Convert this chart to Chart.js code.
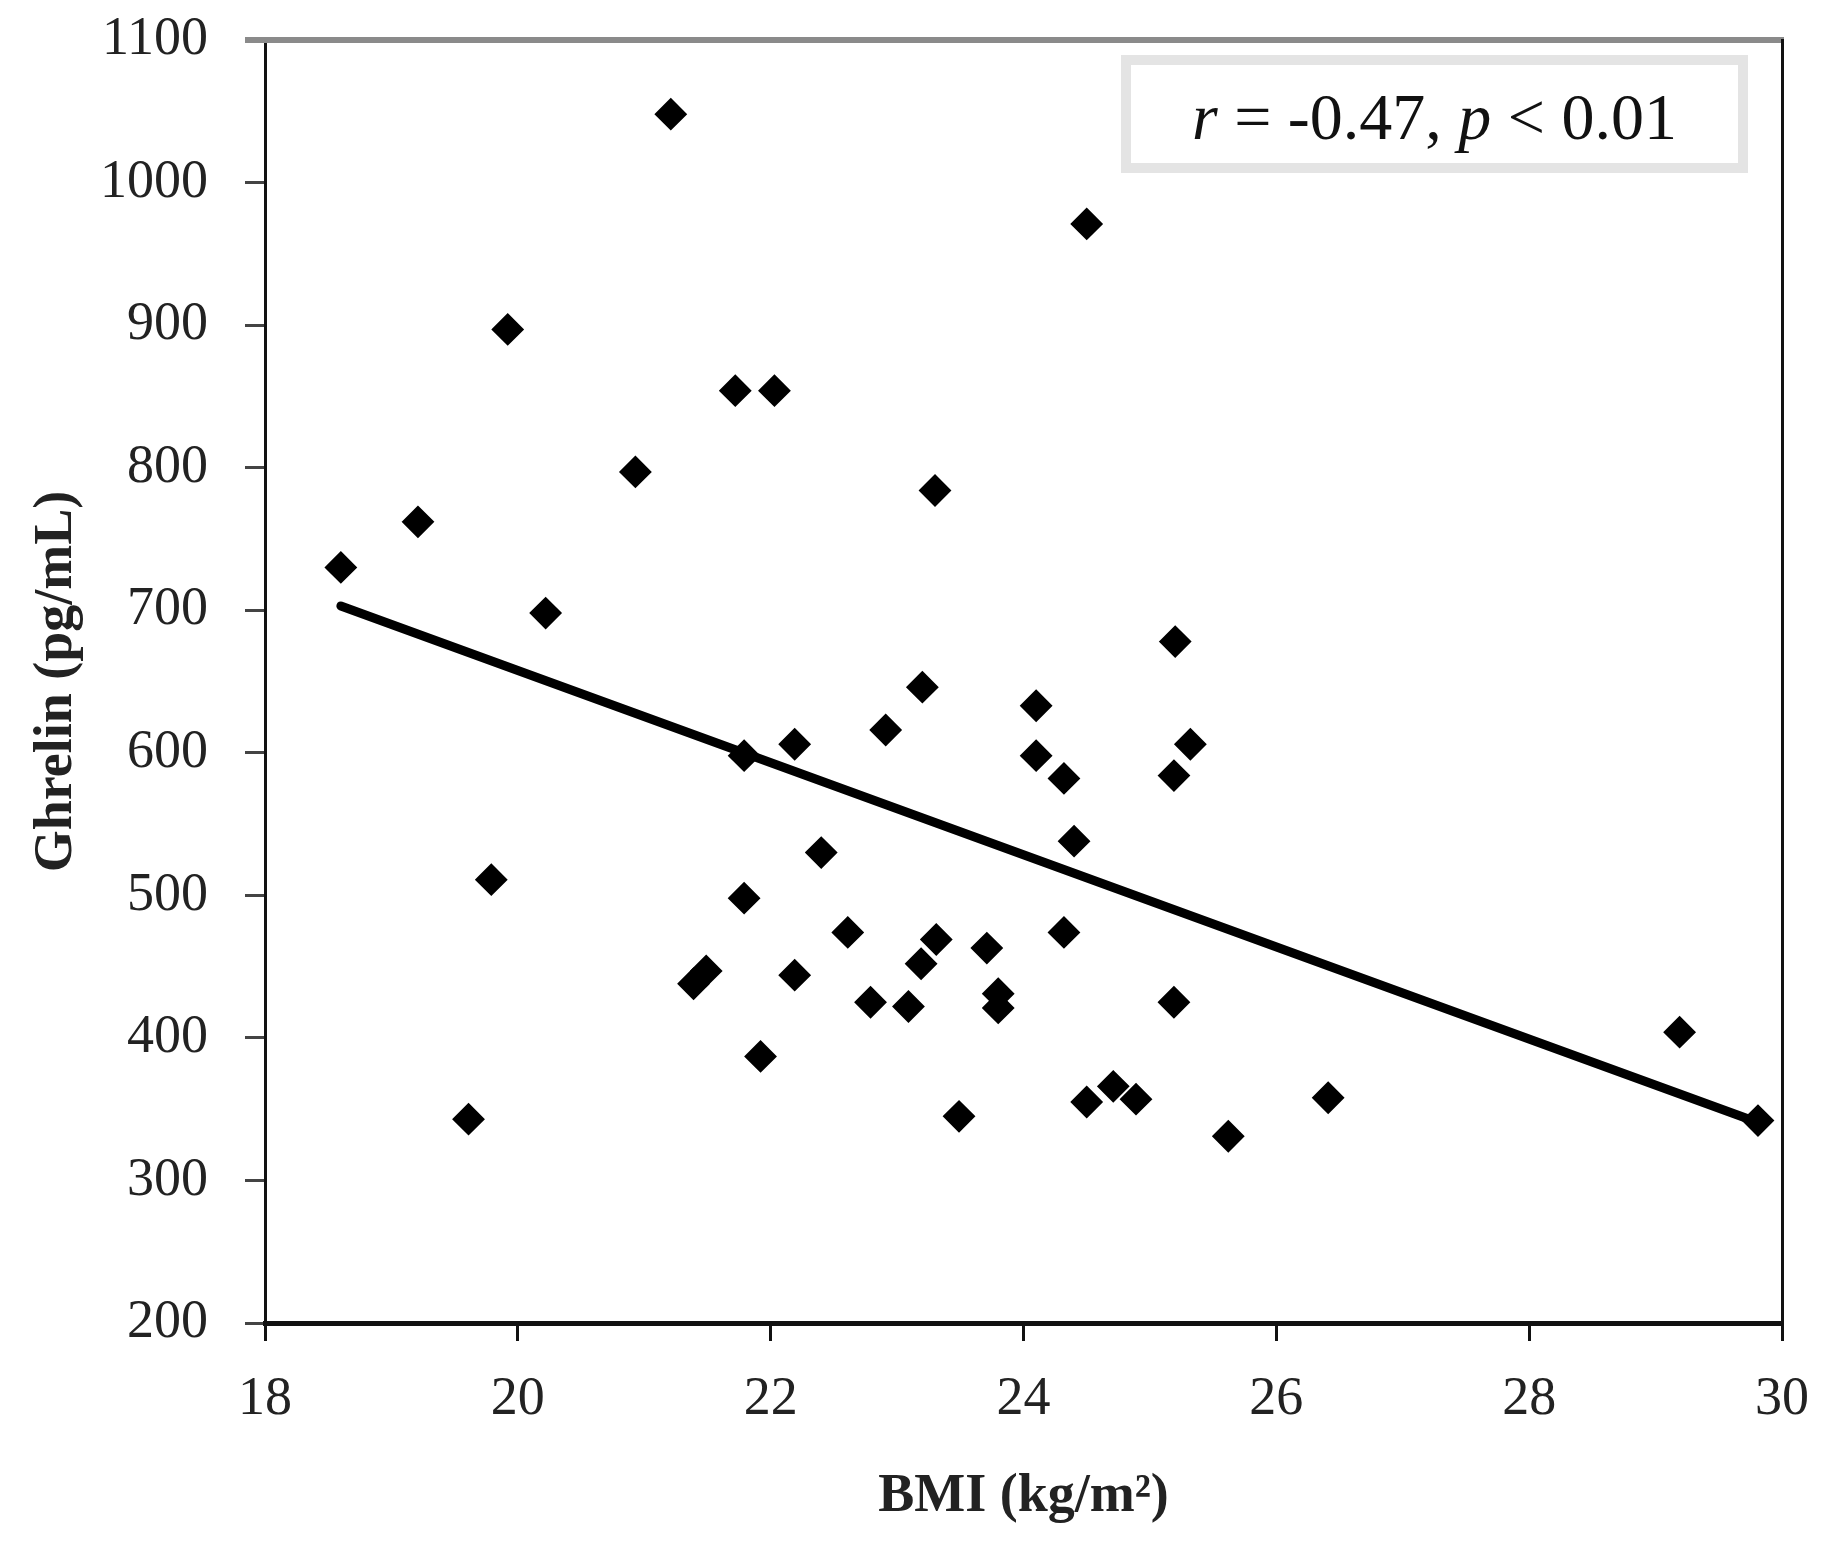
<!DOCTYPE html>
<html><head><meta charset="utf-8">
<script src="https://cdn.jsdelivr.net/npm/chart.js@4.4.1/dist/chart.umd.min.js"></script>
<style>html,body{margin:0;padding:0;background:#fff;}canvas{display:block;}</style>
</head><body>
<canvas id="c" width="1826" height="1543"></canvas>
<script>
// BMI (kg/m²) of each subject
const bmi = [18.60, 19.21, 19.92, 20.22, 19.79, 19.61, 20.93, 21.21, 21.72, 22.03,
             21.79, 21.79, 21.39, 21.49, 21.92, 22.19, 22.19, 22.40, 22.61, 22.79,
             22.91, 23.09, 23.20, 23.19, 23.30, 23.31, 23.49, 23.71, 23.80, 23.80,
             24.10, 24.10, 24.32, 24.32, 24.40, 24.50, 24.50, 24.71, 24.89, 25.20,
             25.19, 25.32, 25.19, 25.62, 26.41, 29.19, 29.81];
// Ghrelin (pg/mL) of each subject
const ghrelin = [730, 762, 897, 698, 511, 343, 797, 1048, 854, 854,
                 598, 498, 438, 447, 387, 606, 444, 530, 474, 425,
                 616, 422, 646, 452, 784, 469, 345, 463, 431, 421,
                 633, 598, 582, 474, 538, 971, 355, 366, 357, 678,
                 584, 606, 425, 331, 358, 404, 342];
// regression line end points
const fitX = [18.6, 29.8];
const fitY = [703, 341];
const xTicks = [18, 20, 22, 24, 26, 28, 30];
const yTicks = [200, 300, 400, 500, 600, 700, 800, 900, 1000, 1100];
const xTitle = 'BMI (kg/m\u00B2)';
const yTitle = 'Ghrelin (pg/mL)';
const statParts = [['r', true], [' = -0.47, ', false], ['p', true], [' < 0.01', false]];

const FONT = "'Liberation Serif', 'DejaVu Serif', serif";

const framePlugin = {
  id: 'frame',
  afterDraw(chart) {
    const ctx = chart.ctx, a = chart.chartArea;
    ctx.save();
    // top border (gray)
    ctx.fillStyle = '#8a8a8a';
    ctx.fillRect(a.left - 20, a.top - 3, a.right - a.left + 22, 6);
    // right border (black)
    ctx.fillStyle = '#111';
    ctx.fillRect(a.right - 1, a.top - 1, 3, a.bottom - a.top + 19);
    // stat box
    const bx = 1126, by = 60, bw = 617, bh = 108;
    ctx.strokeStyle = '#e4e4e4';
    ctx.lineWidth = 10;
    ctx.strokeRect(bx, by, bw, bh);
    ctx.fillStyle = '#fff';
    ctx.fillRect(bx + 5, by + 5, bw - 10, bh - 10);
    // stat text
    const size = 66;
    let total = 0;
    const widths = statParts.map(([t, it]) => {
      ctx.font = (it ? 'italic ' : '') + size + 'px ' + FONT;
      const w = ctx.measureText(t).width; total += w; return w;
    });
    let x = bx + bw / 2 - total / 2;
    ctx.fillStyle = '#111';
    ctx.textBaseline = 'alphabetic';
    ctx.textAlign = 'left';
    statParts.forEach(([t, it], i) => {
      ctx.font = (it ? 'italic ' : '') + size + 'px ' + FONT;
      ctx.fillText(t, x, 139);
      x += widths[i];
    });
    ctx.restore();
  }
};

new Chart(document.getElementById('c'), {
  type: 'scatter',
  data: {
    datasets: [
      {
        type: 'line',
        data: fitX.map((x, i) => ({x, y: fitY[i]})),
        borderColor: '#000',
        borderWidth: 9,
        pointRadius: 0,
        fill: false,
        borderCapStyle: 'round'
      },
      {
        data: bmi.map((x, i) => ({x, y: ghrelin[i]})),
        pointStyle: 'rectRot',
        pointRadius: 15,
        backgroundColor: '#000',
        borderColor: '#000',
        borderWidth: 2,
        clip: false
      }
    ]
  },
  options: {
    responsive: false,
    devicePixelRatio: 1,
    animation: false,
    layout: { padding: 0 },
    plugins: { legend: { display: false }, tooltip: { enabled: false } },
    scales: {
      x: {
        type: 'linear',
        min: 18, max: 30,
        afterBuildTicks: s => { s.ticks = xTicks.map(v => ({value: v})); },
        afterFit: s => { s.height = 220; s.paddingRight = 44; s.paddingLeft = 0; },
        ticks: { font: { family: FONT, size: 54 }, color: '#222', padding: 26, maxRotation: 0, callback: v => String(v) },
        grid: { drawOnChartArea: false, drawTicks: true, tickLength: 18, color: '#111', lineWidth: 3 },
        border: { color: '#111', width: 5 },
        title: { display: true, text: xTitle, font: { family: FONT, size: 54, weight: 'bold' }, color: '#222', padding: 14 }
      },
      y: {
        type: 'linear',
        min: 200, max: 1100,
        afterBuildTicks: s => { s.ticks = yTicks.map(v => ({value: v})); },
        afterFit: s => { s.width = 265; s.paddingTop = 40; s.paddingBottom = 0; },
        ticks: { font: { family: FONT, size: 54 }, color: '#222', padding: 37, callback: v => String(v) },
        grid: { drawOnChartArea: false, drawTicks: true, tickLength: 20, color: '#444', lineWidth: 3 },
        border: { color: '#111', width: 3 },
        title: { display: true, text: yTitle, font: { family: FONT, size: 54, weight: 'bold' }, color: '#222', padding: 25 }
      }
    }
  },
  plugins: [framePlugin]
});
</script>
</body></html>
